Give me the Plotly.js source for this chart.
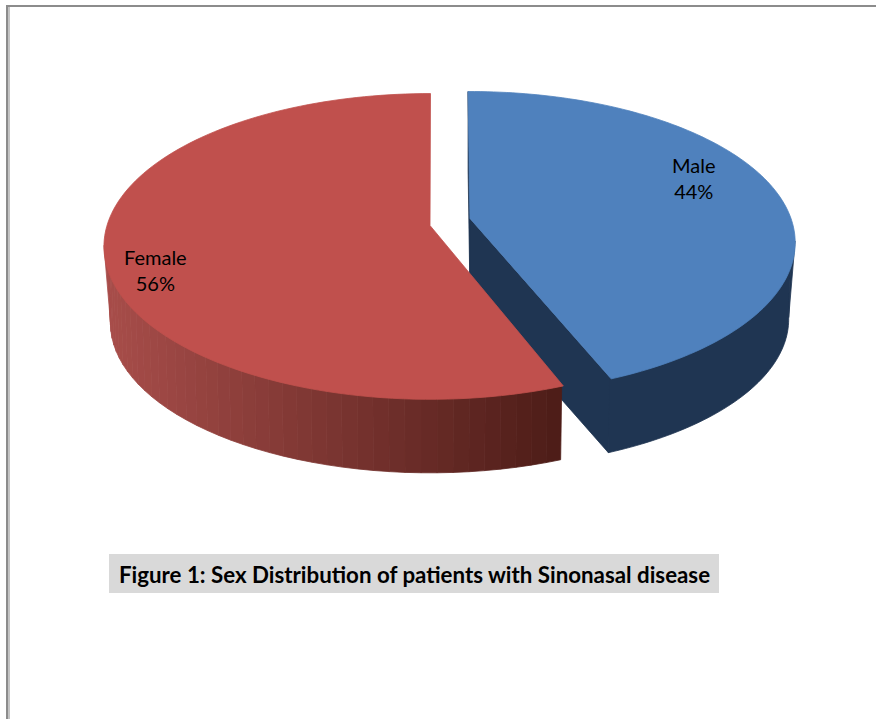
<!DOCTYPE html>
<html>
<head>
<meta charset="utf-8">
<script src="https://cdn.plot.ly/plotly-3.0.1.min.js"></script>
<style>html,body{margin:0;padding:0;background:#fff;}#chart{width:876px;height:719px;}</style>
</head>
<body>
<div id="chart"></div>
<script>
// Data
var categories = ["Male", "Female"];
var percentages = [44, 56];
var caption = "Figure 1: Sex Distribution of patients with Sinonasal disease";

// Styles
var topColors = ["#4f81bd", "#c0504d"];
var wallLeftColors = ["#1f3552", "#a84d4a"];
var wallRightColors = ["#1f3552", "#4c1c17"];

// Projection of each exploded slice (perspective tilted disc)
var proj = [
  {cx: 470, cy: 218.5, A: 321, B: 147.3, k: 0.16, rot: -0.4},
  {cx: 430, cy: 225.5, A: 323, B: 150, k: 0.137, rot: 0.5}
];
var depth = 77, depthScale = 0.98, rimInset = 0.988;

function project(p, deg, low) {
  var t = (deg + p.rot) * Math.PI / 180, v = Math.cos(t), w = 1 + p.k * v;
  var dx = p.A * Math.sin(t) / w, dy = -p.B * v / w;
  var s = low ? depthScale : 1;
  return [p.cx + s * dx, p.cy + s * dy + (low ? depth : 0)];
}
// The rim's upper edge is tucked just under the top face so no fringe shows
function rimTopPoint(p, deg) {
  var q = project(p, deg, false);
  return [p.cx + (q[0] - p.cx) * rimInset, p.cy + (q[1] - p.cy) * rimInset];
}
// Wedge joining the top face's widest point to the rim, closing the silhouette
function silhouette(p, deg, color) {
  return poly([project(p, deg, false), project(p, deg, true), rimTopPoint(p, deg)], color);
}
function hex(c) { return [1, 3, 5].map(function (i) { return parseInt(c.substr(i, 2), 16); }); }
function mix(a, b, f) {
  var x = hex(a), y = hex(b);
  return "rgb(" + x.map(function (q, i) { return Math.round(q + (y[i] - q) * f); }).join(",") + ")";
}
function poly(pts, color) {
  var closed = pts.concat([pts[0]]);
  return {
    type: "scatter", mode: "lines", fill: "toself", fillcolor: color,
    x: closed.map(function (q) { return q[0]; }), y: closed.map(function (q) { return q[1]; }),
    line: {color: color, width: 0.8, simplify: false}, hoverinfo: "skip", showlegend: false
  };
}

// Slice angle spans come from the percentages
var total = percentages[0] + percentages[1];
var split = 360 * percentages[0] / total;
var spans = [[0, split], [split, 359.6]];
var traces = [];

// Male: cut walls and rim
var pM = proj[0], widestM = 99;
traces.push(poly([project(pM, 0, false), project(pM, 0, true), [pM.cx, pM.cy + depth], [pM.cx, pM.cy]], wallLeftColors[0]));
traces.push(poly([[pM.cx, pM.cy], [pM.cx, pM.cy + depth], project(pM, split, true), project(pM, split, false)], wallLeftColors[0]));
var rimTop = [], rimLow = [];
for (var d = widestM; d <= split + 1e-6; d += (split - widestM) / 60) {
  rimTop.push(rimTopPoint(pM, d));
  rimLow.unshift(project(pM, d, true));
}
traces.push(poly(rimTop.concat(rimLow), wallLeftColors[0]));
traces.push(silhouette(pM, widestM, wallLeftColors[0]));
function face(i) {
  var p = proj[i], pts = [[p.cx, p.cy]];
  for (var a = spans[i][0]; a <= spans[i][1] + 1e-6; a += (spans[i][1] - spans[i][0]) / 120) pts.push(project(p, a, false));
  return poly(pts, topColors[i]);
}
traces.push(face(0));

// Female: rim shaded by horizontal position, then top face
var pF = proj[1], xL = 105, xR = 563, widestF = 262;
for (var r = split; r < widestF; r += 2.5) {
  var r2 = Math.min(r + 2.5, widestF);
  var a1 = rimTopPoint(pF, r), a2 = rimTopPoint(pF, r2);
  var f = 1 - ((a1[0] + a2[0]) / 2 - xL) / (xR - xL);
  traces.push(poly([a1, a2, project(pF, r2, true), project(pF, r, true)],
    mix(wallRightColors[1], wallLeftColors[1], Math.max(0, Math.min(1, f)))));
}
traces.push(silhouette(pF, widestF, wallLeftColors[1]));
traces.push(face(1));

var txt = {family: "Lato, Carlito, sans-serif", size: 20, color: "#000"};
var layout = {
  width: 876, height: 719,
  margin: {l: 0, r: 0, t: 0, b: 0},
  paper_bgcolor: "#fff", plot_bgcolor: "#fff",
  showlegend: false,
  xaxis: {range: [0, 876], visible: false, fixedrange: true},
  yaxis: {range: [719, 0], visible: false, fixedrange: true},
  shapes: [
    {type: "rect", xref: "x", yref: "y", x0: 6, x1: 8, y0: 5, y1: 719, fillcolor: "#8c8c8c", line: {width: 0}, layer: "below"},
    {type: "rect", xref: "x", yref: "y", x0: 8, x1: 10, y0: 7, y1: 719, fillcolor: "#c4c4c4", line: {width: 0}, layer: "below"},
    {type: "rect", xref: "x", yref: "y", x0: 6, x1: 876, y0: 5, y1: 7, fillcolor: "#8c8c8c", line: {width: 0}, layer: "below"},
    {type: "rect", xref: "x", yref: "y", x0: 109, x1: 719, y0: 554, y1: 593, fillcolor: "#d9d9d9", line: {width: 0}, layer: "below"}
  ],
  annotations: [
    {xref: "x", yref: "y", x: 694, y: 178, text: categories[0] + "<br>" + percentages[0] + "%", showarrow: false, font: txt, align: "center"},
    {xref: "x", yref: "y", x: 155, y: 270, text: categories[1] + "<br>" + percentages[1] + "%", showarrow: false, font: txt, align: "center"},
    {xref: "x", yref: "y", x: 414, y: 574, text: "<b>" + caption + "</b>", showarrow: false,
     font: {family: "Lato, Carlito, sans-serif", size: 22.3, color: "#000"}}
  ]
};
Plotly.newPlot("chart", traces, layout, {displayModeBar: false, staticPlot: true});
</script>
</body>
</html>
